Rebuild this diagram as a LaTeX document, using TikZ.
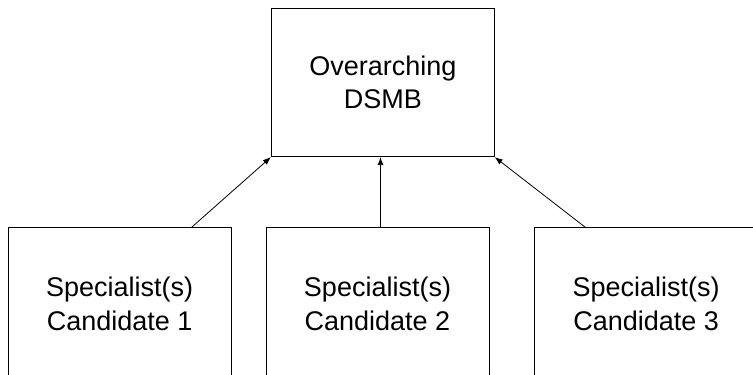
\documentclass[tikz,border=0pt]{standalone}
\usepackage{fontspec}
\setmainfont{Liberation Sans}
\usetikzlibrary{arrows.meta}

\begin{document}
\begin{tikzpicture}[x = 1pt, y = 1pt,
  board/.style = {draw, line width = 0.8pt, inner sep = 0pt, minimum width = 223pt, align = center, font = \fontsize{27}{33.5}\selectfont},
  link/.style = {line width = 0.8pt, -{Latex[length = 8pt, width = 6pt]}}]

\clip (0, 0) rectangle (753, 375);

\node [board, minimum height = 148.4pt] (dsmb) at (382.8, 292.5) {Overarching\\DSMB};
\node [board, minimum height = 152pt] (cand1) at (119.7, 71.3) {Specialist(s)\\Candidate 1};
\node [board, minimum height = 152pt] (cand2) at (377.5, 71.3) {Specialist(s)\\Candidate 2};
\node [board, minimum height = 152pt] (cand3) at (646.2, 71.3) {Specialist(s)\\Candidate 3};

\draw [link] ([xshift = -40pt] cand1.north east) -- (dsmb.south west);
\draw [link] ([xshift = 3pt] cand2.north) -- ([xshift = 3pt] cand2.north |- dsmb.south);
\draw [link] ([xshift = 51pt] cand3.north west) -- (dsmb.south east);
\end{tikzpicture}
\end{document}
